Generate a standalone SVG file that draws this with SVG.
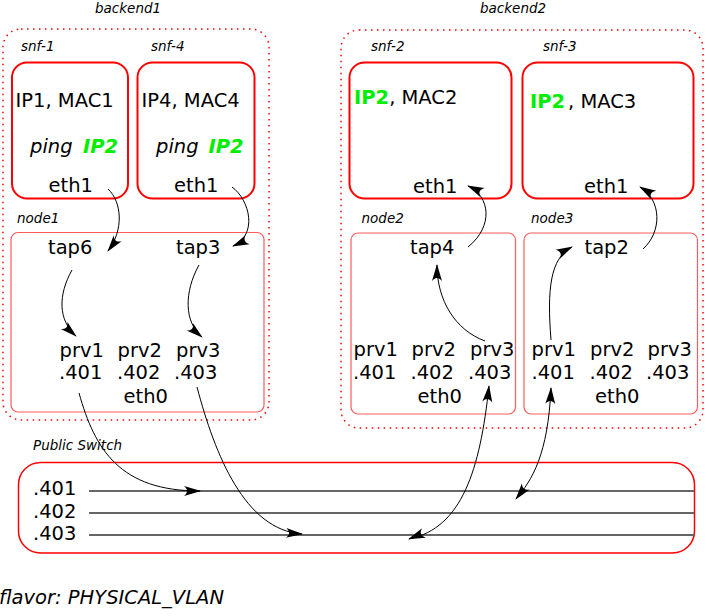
<svg xmlns="http://www.w3.org/2000/svg" width="709" height="616" viewBox="0 0 709 616">
<defs>
<marker id="ah" markerUnits="userSpaceOnUse" viewBox="-18 -7 20 14" markerWidth="20" markerHeight="14" refX="0" refY="0" orient="auto-start-reverse" overflow="visible">
<path d="M1,0 L-16,-5 C-12,-1.5 -12,1.5 -16,5 Z" fill="#000"/>
</marker>
<marker id="ah155" markerUnits="userSpaceOnUse" viewBox="-18 -7 20 14" markerWidth="20" markerHeight="14" refX="0" refY="0" orient="158" overflow="visible">
<path d="M1,0 L-16,-5 C-12,-1.5 -12,1.5 -16,5 Z" fill="#000"/>
</marker>
<marker id="ah125" markerUnits="userSpaceOnUse" viewBox="-18 -7 20 14" markerWidth="20" markerHeight="14" refX="0" refY="0" orient="128" overflow="visible">
<path d="M1,0 L-16,-5 C-12,-1.5 -12,1.5 -16,5 Z" fill="#000"/>
</marker>
<style>
text{font-family:"DejaVu Sans","Liberation Sans",sans-serif;fill:#000}
.lab{font-size:13.5px;font-style:italic}
.big{font-size:19.5px}
.it{font-style:italic}
.g{fill:#00ee00;font-weight:bold}
.dot{fill:none;stroke:#f00;stroke-width:1.5;stroke-dasharray:1.5 4.5}
.vm{fill:#fff;stroke:#f00;stroke-width:2}
.nd{fill:#fff;stroke:#f33;stroke-opacity:0.8;stroke-width:1.2}
.sw{fill:#fff;stroke:#f00;stroke-width:1.5}
.vl{stroke:#666;stroke-width:2}
.c{fill:none;stroke:#000;stroke-width:1}
</style>
</defs>

<g id="backend1">
<rect class="dot" x="3" y="29" width="266" height="391" rx="18"/>
<text class="lab" x="95" y="12.5">backend1</text>
</g>
<g id="backend2">
<rect class="dot" x="341" y="30" width="362" height="398" rx="18"/>
<text class="lab" x="480" y="13">backend2</text>
</g>

<g id="snf-1">
<text class="lab" x="21" y="50.5">snf-1</text>
<rect class="vm" x="12" y="62.5" width="116" height="136" rx="15"/>
<text class="big" x="15.5" y="107">IP1, MAC1</text>
<text class="big it" x="30" y="153">ping <tspan class="g" x="83">IP2</tspan></text>
<text class="big" x="48.5" y="192">eth1</text>
</g>
<g id="snf-4">
<text class="lab" x="151" y="50.5">snf-4</text>
<rect class="vm" x="137.5" y="62.5" width="117" height="136" rx="15"/>
<text class="big" x="141.5" y="107">IP4, MAC4</text>
<text class="big it" x="156" y="153">ping <tspan class="g" x="208.5">IP2</tspan></text>
<text class="big" x="174" y="192">eth1</text>
</g>
<g id="snf-2">
<text class="lab" x="371" y="50.5">snf-2</text>
<rect class="vm" x="349.5" y="62.5" width="162" height="136" rx="15"/>
<text class="big" x="354" y="103.5"><tspan class="g">IP2</tspan>, MAC2</text>
<text class="big" x="413" y="192.5">eth1</text>
</g>
<g id="snf-3">
<text class="lab" x="543" y="50.5">snf-3</text>
<rect class="vm" x="522.5" y="62.5" width="171" height="136" rx="15"/>
<text class="big" x="530" y="107.5"><tspan class="g">IP2</tspan><tspan x="568">, MAC3</tspan></text>
<text class="big" x="584" y="192.5">eth1</text>
</g>

<g id="node1">
<text class="lab" x="17" y="222.5">node1</text>
<rect class="nd" x="11" y="232.5" width="253" height="179.5" rx="7"/>
<text class="big" x="48" y="253.5">tap6</text>
<text class="big" x="176" y="253.5">tap3</text>
<text class="big" x="59.5" y="356.5">prv1</text>
<text class="big" x="117.5" y="356.5">prv2</text>
<text class="big" x="176" y="356.5">prv3</text>
<text class="big" x="59" y="379">.401</text>
<text class="big" x="117" y="379">.402</text>
<text class="big" x="174" y="379">.403</text>
<text class="big" x="123.5" y="402.5">eth0</text>
</g>
<g id="node2">
<text class="lab" x="361.5" y="223">node2</text>
<rect class="nd" x="351" y="233" width="164.5" height="181" rx="7"/>
<text class="big" x="410" y="253.5">tap4</text>
<text class="big" x="353.5" y="356">prv1</text>
<text class="big" x="411.5" y="356">prv2</text>
<text class="big" x="470" y="356">prv3</text>
<text class="big" x="353" y="378.5">.401</text>
<text class="big" x="410.5" y="378.5">.402</text>
<text class="big" x="468" y="378.5">.403</text>
<text class="big" x="417.5" y="402.5">eth0</text>
</g>
<g id="node3">
<text class="lab" x="531" y="223">node3</text>
<rect class="nd" x="524" y="233" width="173.5" height="181" rx="7"/>
<text class="big" x="584.5" y="253.5">tap2</text>
<text class="big" x="531.5" y="356">prv1</text>
<text class="big" x="590" y="356">prv2</text>
<text class="big" x="647.5" y="356">prv3</text>
<text class="big" x="531.5" y="378.5">.401</text>
<text class="big" x="589.5" y="378.5">.402</text>
<text class="big" x="646" y="378.5">.403</text>
<text class="big" x="595" y="402.5">eth0</text>
</g>

<g id="public-switch">
<text class="lab" x="33" y="450">Public Switch</text>
<rect class="sw" x="18.5" y="462.5" width="676" height="90.5" rx="22"/>
<line class="vl" x1="89" y1="491" x2="694" y2="491"/>
<line class="vl" x1="89" y1="513" x2="694" y2="513"/>
<line class="vl" x1="89" y1="535" x2="694" y2="535"/>
<text class="big" x="33" y="495">.401</text>
<text class="big" x="33" y="517.5">.402</text>
<text class="big" x="33" y="539.5">.403</text>
</g>

<g id="connectors">
<path class="c" d="M108,189 C122,202 124,230 108,251" marker-end="url(#ah)"/>
<path class="c" d="M232,187 C250,200 258,235 233,246" marker-end="url(#ah)"/>
<path class="c" d="M72,270 C58,295 58,320 76,336" marker-end="url(#ah)"/>
<path class="c" d="M199,265 C184,292 184,322 202,337" marker-end="url(#ah)"/>
<path class="c" d="M485,341 C455,330 437,300 437,265" marker-end="url(#ah)"/>
<path class="c" d="M468,247 C494,226 490,196 468,186" marker-end="url(#ah)"/>
<path class="c" d="M551,340 C547,290 550,258 572,247" marker-end="url(#ah)"/>
<path class="c" d="M643,249 C662,232 662,200 640,187" marker-end="url(#ah)"/>
<path class="c" d="M79,393 C95,450 120,491 200,491" marker-end="url(#ah)"/>
<path class="c" d="M197,387 C215,455 245,530 302,534" marker-end="url(#ah)"/>
<path class="c" d="M409,539 C462,528 480,470 489,386" marker-start="url(#ah155)" marker-end="url(#ah)"/>
<path class="c" d="M516,499 C532,480 548,455 551,388" marker-start="url(#ah125)" marker-end="url(#ah)"/>
</g>

<text id="flavor" class="it" x="-1" y="603.5" style="font-size:19.5px">flavor: PHYSICAL_VLAN</text>
</svg>
